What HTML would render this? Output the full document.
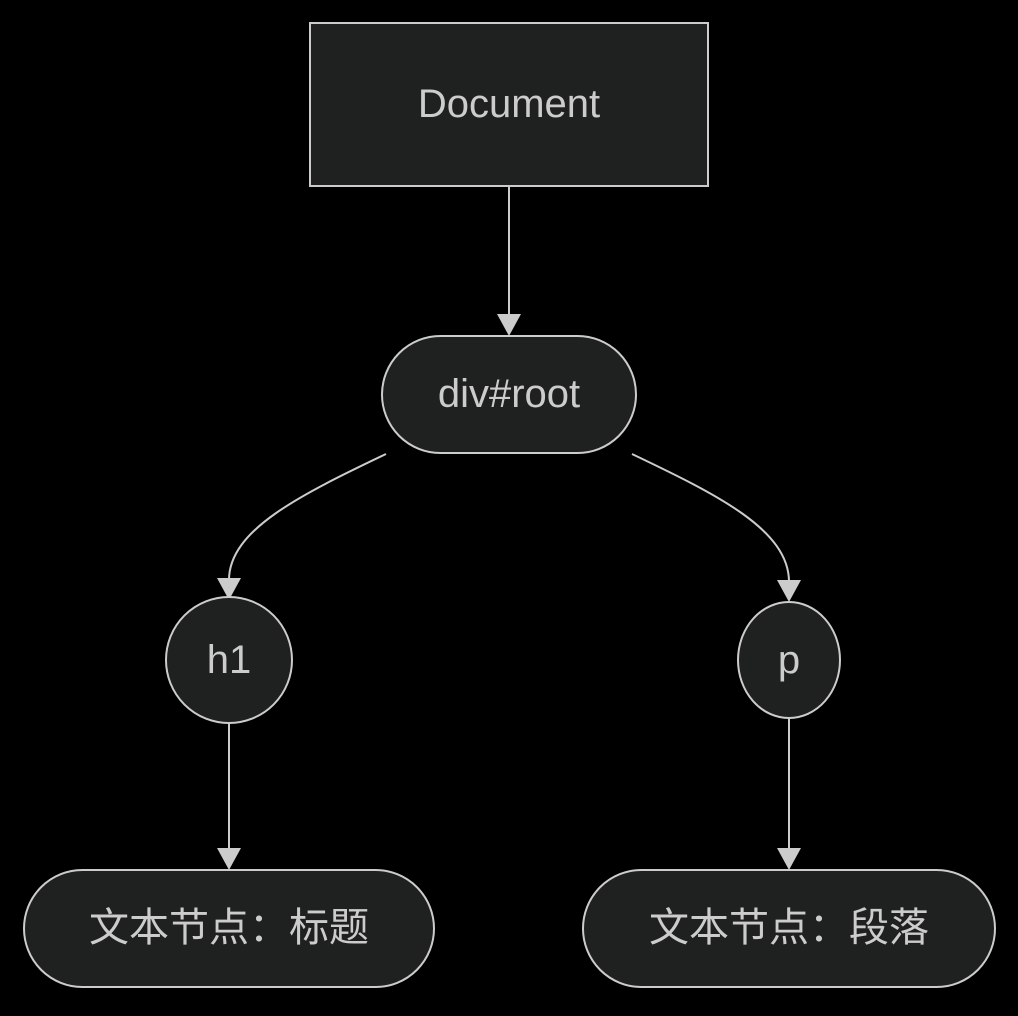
<!DOCTYPE html>
<html><head><meta charset="utf-8"><style>html,body{margin:0;padding:0;background:#000;}</style></head>
<body>
<svg width="1018" height="1011" viewBox="0 0 1018 1011" xmlns="http://www.w3.org/2000/svg">
<defs>
<marker id="a" viewBox="0 0 10 10" refX="9" refY="5" markerWidth="12" markerHeight="12" markerUnits="userSpaceOnUse" orient="auto">
<path d="M0,0 L10,5 L0,10 z" fill="#cccccc"/>
</marker>
</defs>
<g fill="none" stroke="#cccccc" stroke-width="2">
<path d="M509,187 L509,316"/>
<path d="M386,454 C300,495 229,530 229,580"/>
<path d="M632,454 C718,495 789,530 789,582"/>
<path d="M229,722 L229,850"/>
<path d="M789,719 L789,850"/>
</g>
<g fill="#cccccc">
<path d="M497,314 L521,314 L509,336 z"/>
<path d="M217,578 L241,578 L229,600 z"/>
<path d="M777,580 L801,580 L789,602 z"/>
<path d="M217,848 L241,848 L229,870 z"/>
<path d="M777,848 L801,848 L789,870 z"/>
</g>
<g fill="#1f2020" stroke="#cccccc" stroke-width="2">
<rect x="310" y="23" width="398" height="163"/>
<rect x="382" y="336" width="254" height="117" rx="58.5"/>
<circle cx="229" cy="660" r="63"/>
<ellipse cx="789" cy="660" rx="51" ry="58"/>
<rect x="24" y="870" width="410" height="117" rx="58.5"/>
<rect x="583" y="870" width="412" height="117" rx="58.5"/>
</g>
<g fill="#cccccc" font-family="'Liberation Sans','Noto Sans CJK SC',sans-serif" font-size="40" text-anchor="middle" dominant-baseline="central">
<text x="509" y="104">Document</text>
<text x="509" y="394">div#root</text>
<text x="229" y="660">h1</text>
<text x="789" y="660">p</text>
<text x="229" y="928">文本节点：标题</text>
<text x="789" y="928">文本节点：段落</text>
</g>
</svg>
</body></html>
